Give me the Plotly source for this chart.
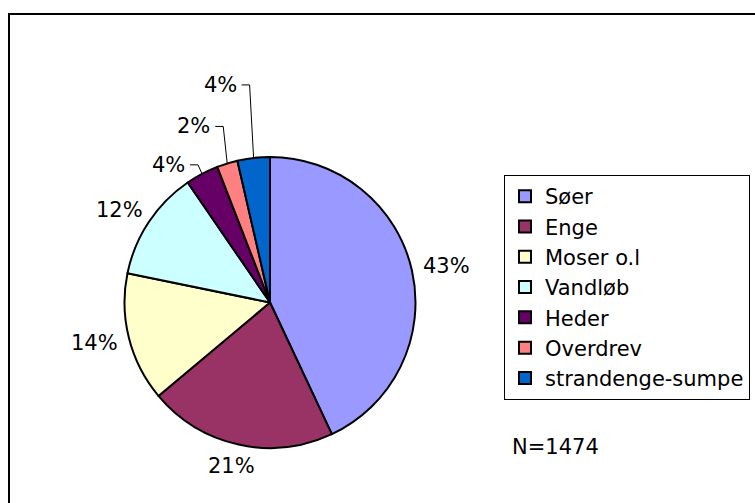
import math
import plotly.graph_objects as go

# data (counts, N = 1474)
labels = ["Søer", "Enge", "Moser o.l", "Vandløb", "Heder", "Overdrev", "strandenge-sumpe"]
counts = [634, 308, 211, 180, 54, 34, 53]
colors = ["#9999FF", "#993366", "#FFFFCC", "#CCFFFF", "#660066", "#FF8080", "#0066CC"]
n_text = "N=1474"

W, H = 755, 503
FONT = "Verdana, DejaVu Sans, sans-serif"
FS = 21

# pie placement in pixels
cx, cy, R = 270, 302.5, 145.5
# crowded small slices get lifted labels with elbow leader lines (pixels)
lift = {"Heder": 9, "Overdrev": 37, "strandenge-sumpe": 73}


def px(x, y):
    return x / W, 1 - y / H


fig = go.Figure()
fig.add_trace(go.Pie(
    labels=labels,
    values=counts,
    sort=False,
    direction="clockwise",
    rotation=0,
    textinfo="none",
    hoverinfo="skip",
    marker=dict(colors=colors, line=dict(color="black", width=2)),
    domain=dict(x=[(cx - R) / W, (cx + R) / W], y=[1 - (cy + R) / H, 1 - (cy - R) / H]),
))

total = sum(counts)
annotations = []
shapes = []
cum = 0
for lab, v in zip(labels, counts):
    frac = v / total
    mid = cum + frac / 2
    cum += frac
    th = 2 * math.pi * mid
    dx, dy = math.sin(th), -math.cos(th)
    txt = f"{round(frac * 100)}%"
    px_, py_ = cx + R * dx, cy + R * dy
    if lab in lift:
        ex, ey = px_ - 4, py_ - lift[lab]
        hx = ex - 8
        x0, y0 = px(px_, py_)
        x1, y1 = px(ex, ey)
        x2, y2 = px(hx, ey)
        shapes.append(dict(type="path", xref="paper", yref="paper",
                           path=f"M{x0},{y0} L{x1},{y1} L{x2},{y2}",
                           line=dict(color="black", width=1)))
        lx, ly = px(hx - 3, ey)
        annotations.append(dict(x=lx, y=ly, xref="paper", yref="paper", text=txt,
                                showarrow=False, xanchor="right", yanchor="middle",
                                font=dict(family=FONT, size=FS, color="black")))
    else:
        w, h = 50, 24
        lx = cx + dx * (R + 10) + dx * w / 2
        ly = cy + dy * (R + 10) + dy * h / 2
        ax, ay = px(lx, ly)
        annotations.append(dict(x=ax, y=ay, xref="paper", yref="paper", text=txt,
                                showarrow=False, xanchor="center", yanchor="middle",
                                font=dict(family=FONT, size=FS, color="black")))

nx, ny = px(510, 447)
annotations.append(dict(x=nx, y=ny, xref="paper", yref="paper", text=n_text,
                        showarrow=False, xanchor="left", yanchor="middle",
                        font=dict(family=FONT, size=FS, color="black")))

# outer chart frame (runs off the right and bottom edges)
fx, fy = px(9, 14)
shapes.append(dict(type="rect", xref="paper", yref="paper", x0=fx, y0=-0.1, x1=1.1, y1=fy,
                   line=dict(color="black", width=2), layer="below"))

lgx, lgy = px(750, 175)
fig.update_layout(
    width=W, height=H,
    margin=dict(l=0, r=0, t=0, b=0),
    paper_bgcolor="white",
    plot_bgcolor="white",
    font=dict(family=FONT, size=FS, color="black"),
    showlegend=True,
    legend=dict(x=lgx, y=lgy, xanchor="right", yanchor="top",
                bordercolor="black", borderwidth=1, bgcolor="white",
                font=dict(family=FONT, size=FS, color="black")),
    annotations=annotations,
    shapes=shapes,
)

# drop the browser's default 8px body margin so the figure sits at the page origin
fig.write_html("out.html", config={"displayModeBar": False},
               post_script="document.body.style.margin='0';")
